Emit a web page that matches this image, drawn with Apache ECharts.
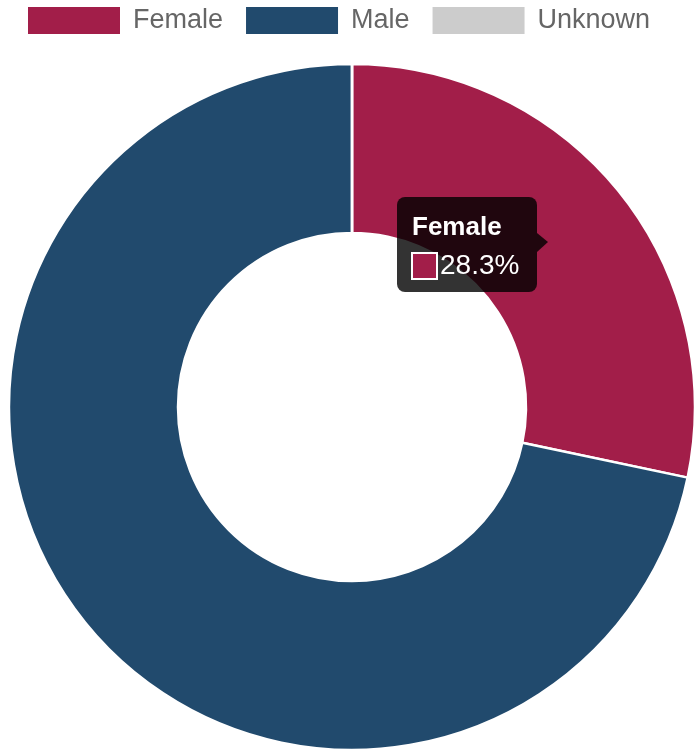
<!DOCTYPE html>
<html>
<head>
<meta charset="utf-8">
<style>
  html, body { margin: 0; padding: 0; background: #fff; }
  #chart { width: 697px; height: 750px; }
</style>
<script src="https://cdn.jsdelivr.net/npm/echarts@6/dist/echarts.min.js"></script>
</head>
<body>
<div id="chart"></div>
<script>
// Gender split (percent)
const categories = ['Female', 'Male', 'Unknown'];
const shares = [28.3, 71.7, 0];
const colors = ['#a21e49', '#214a6d', '#cccccc'];

// Slice whose tooltip is pinned open
const activeIndex = 0;

const chart = echarts.init(document.getElementById('chart'), null, { renderer: 'canvas' });

const font = '"Liberation Sans", Helvetica, Arial, sans-serif';

const tipLabel = categories[activeIndex];
const tipValue = shares[activeIndex].toFixed(1) + '%';

chart.setOption({
  animation: false,
  color: colors,
  legend: {
    top: 7,
    left: 28,
    padding: 0,
    icon: 'rect',
    itemWidth: 92,
    itemHeight: 27,
    itemGap: 23,
    selectedMode: false,
    itemStyle: { borderWidth: 0 },
    textStyle: {
      fontFamily: font,
      fontSize: 27,
      color: '#666',
      padding: [0, 0, 0, 8]
    },
    data: categories
  },
  series: [{
    type: 'pie',
    center: [352, 407],
    radius: [174, 343],
    startAngle: 90,
    clockwise: true,
    silent: true,
    z: 1,
    avoidLabelOverlap: false,
    label: { show: false },
    labelLine: { show: false },
    itemStyle: { borderColor: '#fff', borderWidth: 2.5 },
    data: categories.map((name, i) => ({ name, value: shares[i] }))
  }],
  graphic: [{
    type: 'group',
    left: 397,
    top: 197,
    z: 100,
    children: [
      {
        type: 'rect',
        z: 100,
        shape: { x: 0, y: 0, width: 140, height: 95, r: 8 },
        style: { fill: 'rgba(0,0,0,0.8)' }
      },
      {
        type: 'polygon',
        z: 100,
        shape: { points: [[140, 36], [151, 45], [140, 55]] },
        style: { fill: 'rgba(0,0,0,0.8)' }
      },
      {
        type: 'text',
        z: 101,
        x: 15,
        y: 31,
        style: {
          text: tipLabel,
          fill: '#fff',
          font: 'bold 26px ' + font,
          textVerticalAlign: 'middle'
        }
      },
      {
        type: 'rect',
        z: 101,
        shape: { x: 15, y: 56, width: 25, height: 26 },
        style: { fill: colors[activeIndex], stroke: '#fff', lineWidth: 2 }
      },
      {
        type: 'text',
        z: 101,
        x: 43,
        y: 69,
        style: {
          text: tipValue,
          fill: '#fff',
          font: '28px ' + font,
          textVerticalAlign: 'middle'
        }
      }
    ]
  }]
});
</script>
</body>
</html>
